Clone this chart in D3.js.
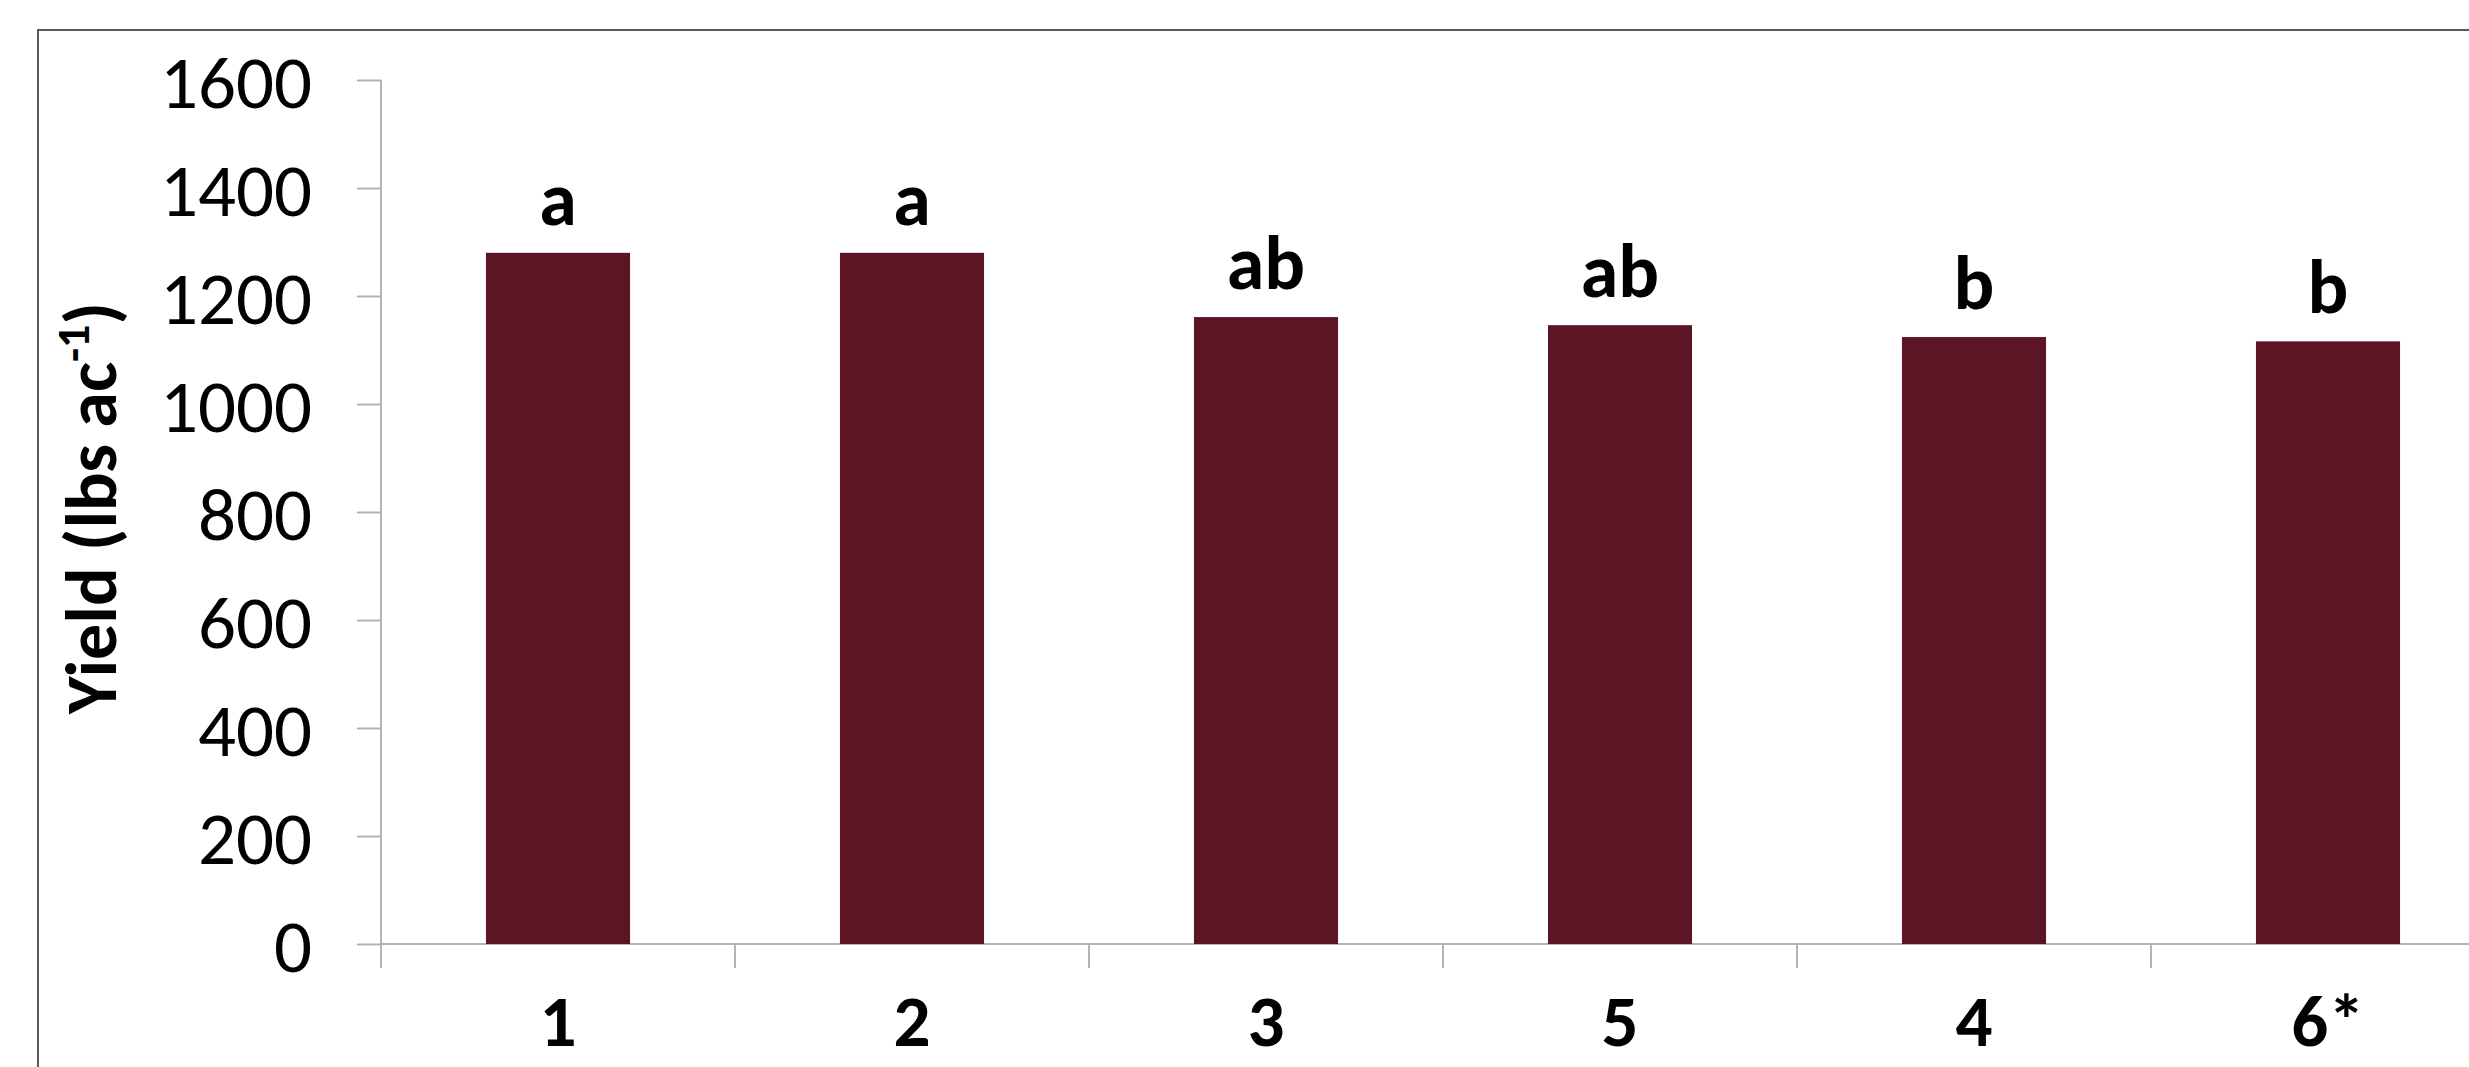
<!DOCTYPE html>
<html><head><meta charset="utf-8">
<script src="https://cdn.jsdelivr.net/npm/d3@7"></script>
<style>html,body{margin:0;padding:0;background:#fff;overflow:hidden}</style>
</head><body>
<svg id="chart" width="2469" height="1067"></svg>
<script>
const categories = ["1", "2", "3", "5", "4", "6*"];
const yields = [1280, 1280, 1161, 1146, 1124, 1116];
const groupLetters = ["a", "a", "ab", "ab", "b", "b"];
const yTicks = [0, 200, 400, 600, 800, 1000, 1200, 1400, 1600];

const W = 2469, H = 1067;
const FONT = "Carlito, Lato, 'Open Sans', sans-serif";
const svg = d3.select("#chart");

// outer chart border (extends past right/bottom edges)
svg.append("rect").attr("x", 38).attr("y", 30).attr("width", W).attr("height", H)
  .attr("fill", "none").attr("stroke", "#595959").attr("stroke-width", 2);

const x0 = 381, step = 354;
const x = d3.scaleBand().domain(categories).range([x0, x0 + step * categories.length])
  .paddingInner(0.593).paddingOuter(0.2965);
const y = d3.scaleLinear().domain([0, 1600]).range([944, 80]);

// Y axis
const yAxis = svg.append("g").attr("transform", `translate(${x0},0)`)
  .call(d3.axisLeft(y).tickValues(yTicks).tickSize(24).tickPadding(45).tickFormat(d3.format("d")));
yAxis.select(".domain").attr("stroke", "#b3b3b3").attr("stroke-width", 2)
  .attr("d", `M0,${y(1600)}V${y(0)}`);
yAxis.selectAll(".tick line").attr("stroke", "#b3b3b3").attr("stroke-width", 2);
yAxis.selectAll(".tick text").attr("font-family", FONT).attr("font-size", 75)
  .attr("fill", "#000").attr("dy", "0.36em");

// X axis line and boundary ticks
const xAxisG = svg.append("g");
xAxisG.append("line").attr("x1", x0).attr("x2", W + 10).attr("y1", y(0)).attr("y2", y(0))
  .attr("stroke", "#b3b3b3").attr("stroke-width", 2);
const bounds = categories.map((c, i) => x.step() * i + x0).concat([x0 + x.step() * categories.length]);
xAxisG.selectAll("line.b").data(bounds).join("line").attr("class", "b")
  .attr("x1", d => d).attr("x2", d => d).attr("y1", y(0)).attr("y2", y(0) + 24)
  .attr("stroke", "#b3b3b3").attr("stroke-width", 2);

// bars
svg.append("g").selectAll("rect").data(categories).join("rect")
  .attr("x", d => x(d)).attr("width", x.bandwidth())
  .attr("y", (d, i) => y(yields[i])).attr("height", (d, i) => y(0) - y(yields[i]))
  .attr("fill", "#5c1524");

// significance letters
svg.append("g").selectAll("text").data(categories).join("text")
  .attr("x", d => x(d) + x.bandwidth() / 2).attr("y", (d, i) => y(yields[i]) - 28)
  .attr("text-anchor", "middle").attr("font-family", FONT).attr("font-weight", "bold")
  .attr("font-size", 76).attr("fill", "#000").text((d, i) => groupLetters[i]);

// category labels
svg.append("g").selectAll("text").data(categories).join("text")
  .attr("x", d => x(d) + x.bandwidth() / 2).attr("y", 1046)
  .attr("text-anchor", "middle").attr("font-family", FONT).attr("font-weight", "bold")
  .attr("font-size", 73).attr("fill", "#000").text(d => d);

// y title
const t = svg.append("text").attr("transform", `translate(116,${(y(0) + y(1600)) / 2 - 4}) rotate(-90)`)
  .attr("text-anchor", "middle").attr("font-family", FONT).attr("font-weight", "bold")
  .attr("font-size", 72).attr("fill", "#000");
t.append("tspan").text("Yield (lbs ac");
t.append("tspan").attr("font-size", 46).attr("dy", -27).text("-1");
t.append("tspan").attr("dy", 27).text(")");
</script>
</body></html>
